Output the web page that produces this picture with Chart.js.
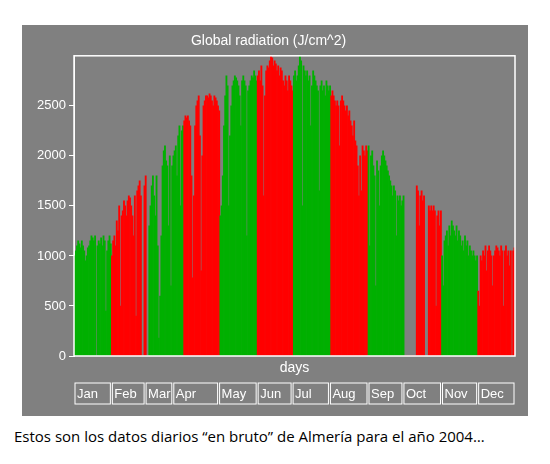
<!DOCTYPE html>
<html>
<head>
<meta charset="utf-8">
<script src="https://cdn.jsdelivr.net/npm/chart.js@4"></script>
<style>
  body { margin: 0; background: #fff; width: 550px; height: 464px; position: relative; }
  #panel { position: absolute; left: 22px; top: 25px; width: 506px; height: 391px; background: #808080; }
  #caption { position: absolute; left: 14px; top: 426px; font: 15px "Open Sans", sans-serif; color: #000; white-space: nowrap; }
</style>
</head>
<body>
<div id="panel"><canvas id="chart" width="506" height="391"></canvas></div>
<div id="caption">Estos son los datos diarios “en bruto” de Almería para el año 2004…</div>
<script>
// daily global radiation, J/cm^2, Almería 2004
const jan = [1000,1050,1100,1150,1120,1080,1150,1100,1050,950,1000,1080,1100,1150,1200,1180,1150,1200,0,1100,1150,1120,1180,1100,1200,1150,450,1050,1150,1200,1120];
const feb = [1000,1150,1200,1100,1350,1250,1500,500,1400,1450,1550,1500,1400,1550,1600,1580,1500,1400,1200,1600,400,1650,1700,1750,1600,0,0,1700,1800];
const mar = [0,0,1300,1500,1700,1800,1600,1400,1800,1100,180,600,1200,1900,2050,2100,1950,1900,1300,2000,700,1900,2000,2050,2100,1800,2200,2300,1500,2250,2300];
const apr = [2350,2400,2380,2400,2350,2300,1800,780,1600,2300,2500,2550,2600,2200,850,2000,2500,2550,2600,2600,2580,2620,2600,2550,2500,2600,2580,2550,2500,2450];
const may = [1400,1500,1800,2300,2600,2800,2700,1500,2200,2500,2700,2750,2800,2780,2750,2700,2600,2300,2750,2800,2750,2700,1200,2650,2700,2750,2800,2780,2850,2800,2750];
const jun = [2800,2850,2750,2900,2700,1600,2600,2850,2900,2880,2950,3000,2980,2900,2950,2920,2850,2900,2800,2880,2850,2750,2700,2800,2750,2650,2800,2750,2700,2650];
const jul = [2800,2850,2750,2800,2900,3000,2950,1500,2900,2850,2800,2850,2750,2800,2300,2700,2850,2800,2750,2700,2650,1650,2700,2750,2650,2700,2600,2750,2700,2650,2700];
const aug = [2600,2650,2600,2550,2500,2550,2500,2100,2550,2600,2550,2500,2450,2500,2400,2450,2350,2300,2200,2350,2150,2100,1900,1600,2000,1650,2100,2050,2000,2100,2050];
const sep = [2100,1100,2000,2050,1900,1800,700,1950,1850,1500,1900,2000,2050,2000,1950,1900,1850,1800,1750,1700,1600,1700,1650,1200,1600,1550,1600,1500,1550,1600];
const oct = [0,0,0,0,0,0,0,0,0,0,1700,1650,1300,1600,1650,1550,1600,0,0,0,1500,1450,1500,1450,1500,1450,500,1400,1450,1300,1450];
const nov = [1000,700,1150,1200,1250,1100,1300,1200,1350,1300,1250,1200,1300,1150,1250,1200,1100,1150,1050,1200,1100,1150,1000,1100,1050,1000,1050,1000,950,1000];
const dec = [650,500,1000,950,1050,1000,1100,850,1050,1100,1050,1000,700,1000,1050,1100,1080,1050,1000,1100,1050,500,1050,1100,1000,1050,900,1050,0,1050,1080];

const months = [jan, feb, mar, apr, may, jun, jul, aug, sep, oct, nov, dec];
const monthNames = ['Jan','Feb','Mar','Apr','May','Jun','Jul','Aug','Sep','Oct','Nov','Dec'];
// day index where each label box starts (as drawn in the original)
const boxStarts = [0, 31, 59, 82, 120, 152, 181, 212, 244, 273, 305, 335, 366];
const yTicks = [0, 500, 1000, 1500, 2000, 2500];

const values = [];
const colors = [];
months.forEach((m, i) => {
    m.forEach(v => {
        values.push(v);
        colors.push(i % 2 === 0 ? '#00b000' : '#ff0000');
    });
});
const labels = values.map((_, i) => i + 1);

// white frame, "days" label and month boxes
const frame = {
    id: 'frame',
    afterDraw(chart) {
        const { ctx, chartArea: a } = chart;
        ctx.save();
        ctx.strokeStyle = '#fff';
        ctx.lineWidth = 1.5;
        ctx.strokeRect(a.left, a.top, a.right - a.left, a.bottom - a.top);
        ctx.fillStyle = '#fff';
        ctx.font = '14px "Liberation Sans", Arial, sans-serif';
        ctx.textAlign = 'center';
        ctx.textBaseline = 'middle';
        ctx.fillText('days', (a.left + a.right) / 2, a.bottom + 12);
        const dw = (a.right - a.left) / values.length;
        const top = a.bottom + 27, h = 21;
        ctx.lineWidth = 1;
        ctx.font = '13px "Liberation Sans", Arial, sans-serif';
        ctx.textAlign = 'left';
        for (let i = 0; i < 12; i++) {
            const l = a.left + boxStarts[i] * dw;
            const r = a.left + boxStarts[i + 1] * dw;
            ctx.strokeRect(l + 1, top, r - l - 2, h);
            ctx.fillText(monthNames[i], l + 3, top + h / 2 + 1);
        }
        ctx.restore();
    }
};

new Chart(document.getElementById('chart').getContext('2d'), {
    type: 'bar',
    data: {
        labels: labels,
        datasets: [{
            data: values,
            backgroundColor: colors,
            barPercentage: 1,
            categoryPercentage: 1,
            borderWidth: 0
        }]
    },
    options: {
        responsive: false,
        animation: false,
        layout: { padding: { top: 0, right: 13, bottom: 52, left: 0 } },
        plugins: {
            legend: { display: false },
            tooltip: { enabled: false },
            title: {
                display: true,
                text: 'Global radiation (J/cm^2)',
                color: '#fff',
                font: { family: '"Liberation Sans", Arial, sans-serif', size: 14, weight: 'normal' },
                padding: { top: 8, bottom: 6 }
            }
        },
        scales: {
            x: {
                ticks: { display: false },
                grid: { display: false },
                border: { display: false }
            },
            y: {
                min: 0,
                max: 3000,
                afterBuildTicks: (axis) => { axis.ticks = yTicks.map(v => ({ value: v })); },
                ticks: {
                    color: '#fff',
                    font: { family: '"Liberation Sans", Arial, sans-serif', size: 13 },
                    padding: 3,
                    callback: (v) => String(v)
                },
                grid: { drawOnChartArea: false, color: '#fff', tickLength: 5 },
                border: { color: '#fff' },
                afterFit: (axis) => { axis.width = 52; }
            }
        }
    },
    plugins: [frame]
});
</script>
</body>
</html>
